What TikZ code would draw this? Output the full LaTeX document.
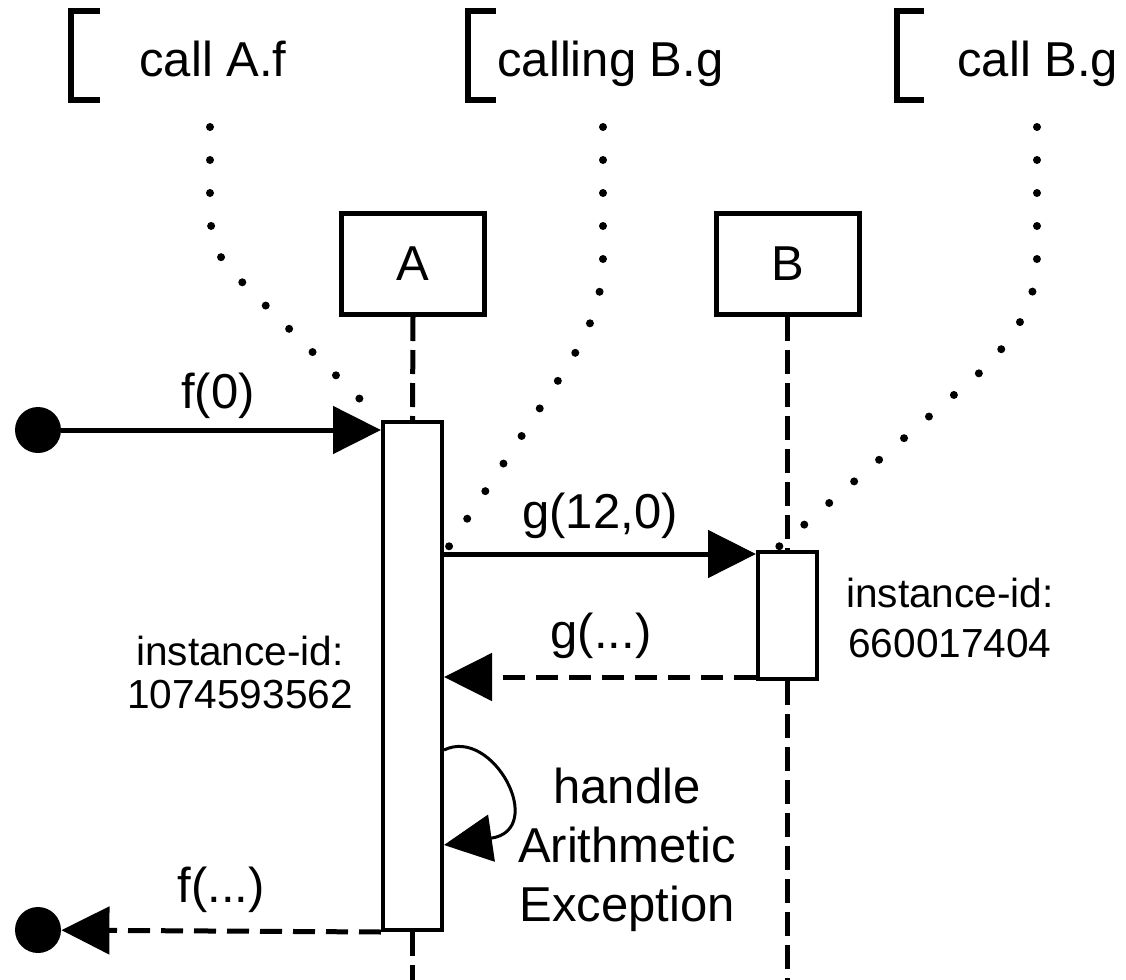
\documentclass[tikz,border=0pt]{standalone}
\usepackage{fontspec}
\setmainfont{Liberation Sans}
\usetikzlibrary{arrows.meta}
\begin{document}
\begin{tikzpicture}[x=0.5pt,y=-0.5pt,
  big/.style={font=\fontsize{24.5}{29.5}\selectfont, inner sep=0pt, align=center},
  small/.style={font=\fontsize{20.3}{23}\selectfont, inner sep=0pt, align=center},
  objbox/.style={draw, line width=2.5pt, minimum width=71.5pt, minimum height=50.5pt, inner sep=0pt, font=\fontsize{24.5}{29.5}\selectfont},
  actbox/.style={draw, line width=2pt, fill=white, minimum width=29.5pt, inner sep=0pt},
  lifeline/.style={line width=2.5pt, dash pattern=on 12pt off 4.5pt},
  msg/.style={line width=2.5pt, -{Triangle[length=24pt,width=23.5pt]}},
  ret/.style={msg, dash pattern=on 11pt off 5.5pt},
  selfmsg/.style={line width=1.5pt, -{Triangle[length=24pt,width=23.5pt]}},
  dotline/.style={line width=4pt, line cap=round, dash pattern=on 0pt off 16.5pt},
  bracket/.style={line width=2.8pt},
  endpt/.style={circle, fill, inner sep=0pt, minimum size=23pt}
]
\useasboundingbox (0,0) rectangle (1126,980);

% annotation labels with brackets
\draw[bracket] (100,11) -- (71,11) -- (71,100) -- (100,100);
\draw[bracket] (496,11) -- (468,11) -- (468,100) -- (496,100);
\draw[bracket] (924,11) -- (897,11) -- (897,100) -- (924,100);
\node[big, anchor=base west] (n1) at (139,76) {call A.f};
\node[big, anchor=base west] (n2) at (497,76) {calling B.g};
\node[big, anchor=base west] (n3) at (957,76) {call B.g};
\coordinate (d1) at (210,127);
\coordinate (d2) at (603,127);
\coordinate (d3) at (1037,127);

% objects
\node[objbox] (A) at (413,264) {A};
\node[objbox] (B) at (787.5,264) {B};

% activations
\node[actbox, minimum height=254pt] (actA) at (412.5,676) {};
\node[actbox, minimum height=63.5pt] (actB) at (787.5,615.5) {};

% lifelines
\coordinate (Aend) at (412.5,980);
\coordinate (Bend) at (787.5,980);
\draw[lifeline] (A.south) -- (actA.north);
\draw[lifeline] (actA.south) -- (Aend);
\draw[lifeline] (B.south) -- (actB.north);
\draw[lifeline] (actB.south) -- (Bend);

% end points
\node[endpt] (start) at (38,430) {};
\node[endpt] (stop) at (38,930) {};

% messages
\draw[msg] (start) -- (start -| actA.west);
\node[big, anchor=base] (lf0) at (218,408) {f(0)};

\coordinate (gB) at ([yshift=-2pt]actB.north west);
\draw[msg] (gB -| actA.east) -- (gB);
\node[big, anchor=base] (lg) at (600,528) {g(12,0)};

\coordinate (rB) at ([yshift=2pt]actB.south west);
\draw[ret] (rB) -- (rB -| actA.east);
\node[big, anchor=base] (lgr) at (601,648) {g(...)};

\draw[ret] (actA.south west) -- (stop);
\node[big, anchor=base] (lfr) at (221,902) {f(...)};

% self message
\draw[selfmsg] (actA.east |- 0,750) .. controls (493,726) and (548,830) .. (actA.east |- 0,845);
\node[big, anchor=base] (lh) at (627,921) {handle\\Arithmetic\\Exception};

% instance ids
\node[small, anchor=base, font=\fontsize{20.3}{21.5}\selectfont] (iA) at (240,708) {instance-id:\\1074593562};
\node[small, anchor=base, font=\fontsize{20.3}{25}\selectfont] (iB) at (950,657) {instance-id:\\660017404};

% dotted annotation connectors
\draw[dotline] (d1) -- (210,205) .. controls (210,250) and (222,262) .. (245,285) -- (actA.north west);
\draw[dotline] (d2) -- (603,255) .. controls (603,300) and (590,330) .. (565,370) -- (gB -| actA.east);
\draw[dotline] (d3) -- (1037,255) .. controls (1037,305) and (1015,335) .. (985,368) -- (actB.north west -| 775,0);
\end{tikzpicture}
\end{document}
